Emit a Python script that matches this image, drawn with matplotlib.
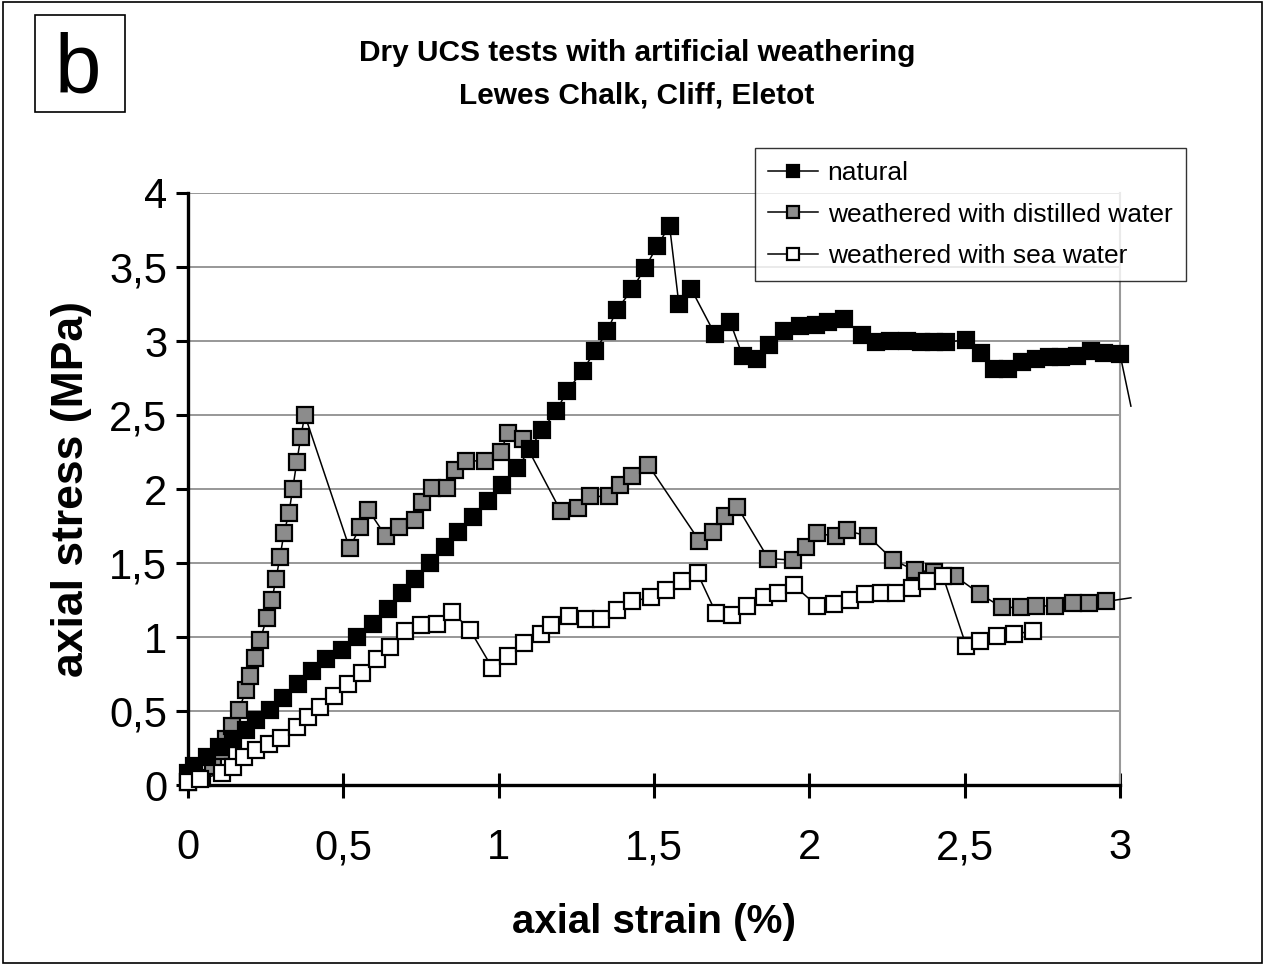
import numpy as np
import matplotlib
matplotlib.use('Agg')
import matplotlib.pyplot as plt
from matplotlib.ticker import FuncFormatter

matplotlib.rcParams['font.family'] = ['Liberation Sans', 'DejaVu Sans']

#Data (strain %, stress MPa)
#the last point of natural and distilled sits just past the axis end (line only)
nat_x = [0.0, 0.02, 0.06, 0.1, 0.145, 0.187, 0.22, 0.264, 0.305, 0.353, 0.40, 0.444, 0.495, 0.543,
         0.595, 0.643, 0.69, 0.73, 0.78, 0.827, 0.87, 0.917, 0.965, 1.01, 1.06, 1.10, 1.14, 1.186,
         1.22, 1.27, 1.31, 1.35, 1.38, 1.43, 1.47, 1.51, 1.55, 1.58, 1.62, 1.695, 1.745, 1.785,
         1.83, 1.87, 1.92, 1.97, 2.02, 2.06, 2.11, 2.17, 2.215, 2.26, 2.315, 2.36, 2.40, 2.44,
         2.505, 2.553, 2.595, 2.64, 2.685, 2.73, 2.77, 2.81, 2.86, 2.905, 2.95, 3.0, 3.035]
nat_y = [0.08, 0.13, 0.19, 0.26, 0.31, 0.37, 0.44, 0.51, 0.59, 0.68, 0.77, 0.85, 0.91, 1.0,
         1.09, 1.19, 1.30, 1.39, 1.50, 1.61, 1.71, 1.81, 1.92, 2.03, 2.14, 2.27, 2.40, 2.53,
         2.66, 2.80, 2.93, 3.07, 3.21, 3.35, 3.49, 3.64, 3.78, 3.25, 3.35, 3.05, 3.13, 2.90,
         2.88, 2.97, 3.07, 3.10, 3.11, 3.13, 3.15, 3.04, 2.99, 3.0, 3.0, 2.99, 2.99, 2.99,
         3.01, 2.92, 2.81, 2.81, 2.86, 2.88, 2.89, 2.89, 2.90, 2.93, 2.92, 2.91, 2.56]

dist_x = [0.0, 0.045, 0.08, 0.106, 0.122, 0.142, 0.164, 0.187, 0.2, 0.215, 0.232, 0.254, 0.27,
          0.283, 0.296, 0.309, 0.325, 0.337, 0.35, 0.363, 0.376, 0.52, 0.553, 0.58, 0.637, 0.68,
          0.73, 0.753, 0.785, 0.833, 0.86, 0.894, 0.955, 1.006, 1.03, 1.077, 1.2, 1.254, 1.293,
          1.354, 1.39, 1.43, 1.482, 1.646, 1.69, 1.727, 1.768, 1.868, 1.946, 1.99, 2.026, 2.087,
          2.12, 2.19, 2.27, 2.34, 2.40, 2.47, 2.55, 2.62, 2.68, 2.73, 2.79, 2.85, 2.90, 2.955, 3.035]
dist_y = [0.02, 0.05, 0.13, 0.23, 0.31, 0.40, 0.51, 0.64, 0.74, 0.86, 0.98, 1.13, 1.25,
          1.39, 1.54, 1.70, 1.84, 2.0, 2.18, 2.35, 2.50, 1.60, 1.74, 1.86, 1.68, 1.74,
          1.79, 1.91, 2.01, 2.01, 2.13, 2.19, 2.19, 2.25, 2.38, 2.34, 1.85, 1.87, 1.95,
          1.95, 2.03, 2.09, 2.16, 1.65, 1.71, 1.82, 1.88, 1.53, 1.52, 1.61, 1.70, 1.68,
          1.72, 1.68, 1.52, 1.45, 1.44, 1.41, 1.29, 1.20, 1.20, 1.21, 1.21, 1.23, 1.23, 1.24, 1.265]

sea_x = [0.0, 0.04, 0.11, 0.145, 0.18, 0.22, 0.26, 0.30, 0.35, 0.386, 0.424, 0.47, 0.515, 0.56,
         0.61, 0.65, 0.70, 0.75, 0.80, 0.85, 0.907, 0.98, 1.03, 1.08, 1.135, 1.17, 1.225, 1.28,
         1.33, 1.38, 1.43, 1.49, 1.54, 1.59, 1.64, 1.70, 1.75, 1.80, 1.855, 1.90, 1.95, 2.025,
         2.08, 2.13, 2.18, 2.23, 2.28, 2.33, 2.38, 2.43, 2.505, 2.55, 2.605, 2.66, 2.72]
sea_y = [0.02, 0.04, 0.08, 0.12, 0.19, 0.24, 0.28, 0.32, 0.39, 0.46, 0.53, 0.60, 0.68, 0.76,
         0.85, 0.93, 1.04, 1.08, 1.09, 1.17, 1.05, 0.79, 0.87, 0.96, 1.02, 1.08, 1.14, 1.12,
         1.12, 1.18, 1.24, 1.27, 1.32, 1.38, 1.43, 1.16, 1.15, 1.21, 1.27, 1.30, 1.35, 1.21,
         1.22, 1.25, 1.29, 1.30, 1.30, 1.33, 1.38, 1.41, 0.94, 0.97, 1.01, 1.02, 1.04]

x_ticks = [0, 0.5, 1, 1.5, 2, 2.5, 3]
y_ticks = [0, 0.5, 1, 1.5, 2, 2.5, 3, 3.5, 4]

fig = plt.figure(figsize=(12.65, 9.65), dpi=100)
ax = fig.add_axes([0.1486, 0.1865, 0.7368, 0.6135])

mk = dict(marker='s', markersize=11, markeredgecolor='black', markeredgewidth=1.6,
          color='black', linewidth=1.1, clip_on=False)
l1, = ax.plot(nat_x, nat_y, markerfacecolor='black', zorder=4, label='natural',
              markevery=list(range(len(nat_x) - 1)), **mk)
l2, = ax.plot(dist_x, dist_y, markerfacecolor='#8c8c8c', zorder=3,
              label='weathered with distilled water',
              markevery=list(range(len(dist_x) - 1)), **mk)
l3, = ax.plot(sea_x, sea_y, markerfacecolor='white', zorder=5,
              label='weathered with sea water', **mk)

ax.set_xlim(0, 3)
ax.set_ylim(0, 4)
ax.set_xticks(x_ticks)
ax.set_yticks(y_ticks)
fmt = FuncFormatter(lambda v, p: ('%g' % v).replace('.', ','))
ax.xaxis.set_major_formatter(fmt)
ax.yaxis.set_major_formatter(fmt)
ax.tick_params(axis='both', labelsize=30, width=2.2, length=9, color='black')
ax.tick_params(axis='x', direction='inout', length=18, pad=22)
ax.tick_params(axis='y', direction='out', pad=6)

ax.yaxis.grid(True, color='#7a7a7a', linewidth=1.1)
ax.set_axisbelow(True)
for s in ['left', 'bottom']:
    ax.spines[s].set_linewidth(2.4)
ax.spines['right'].set_color('#999999')
ax.spines['right'].set_linewidth(1.5)
ax.spines['top'].set_visible(False)

ax.set_xlabel('axial strain (%)', fontsize=29, fontweight='bold', labelpad=25)
ax.set_ylabel('axial stress (MPa)', fontsize=32, fontweight='bold', labelpad=12)

leg = fig.legend(handles=[l1, l2, l3], loc='upper left', bbox_to_anchor=(755 / 1265, 1 - 148 / 965),
                 borderaxespad=0, fontsize=19, frameon=True, fancybox=False, edgecolor='black',
                 handlelength=1.9, handletextpad=0.35, borderpad=0.5, labelspacing=0.66,
                 markerscale=0.85)
leg.get_frame().set_linewidth(1.0)

fig.text(637 / 1265, 1 - 53 / 965, 'Dry UCS tests with artificial weathering', ha='center',
         va='center', fontsize=21.5, fontweight='bold')
fig.text(637 / 1265, 1 - 95 / 965, 'Lewes Chalk, Cliff, Eletot', ha='center', va='center',
         fontsize=21.5, fontweight='bold')

#panel label box
fig.patches.append(plt.Rectangle((35 / 1265, 1 - 112 / 965), 90 / 1265, 97 / 965,
                                 transform=fig.transFigure, fill=False, edgecolor='black',
                                 linewidth=1.2))
fig.text(78 / 1265, 1 - 71 / 965, 'b', ha='center', va='center', fontsize=60)

#figure frame
fig.patches.append(plt.Rectangle((0.002, 0.002), 0.996, 0.996, transform=fig.transFigure,
                                 fill=False, edgecolor='black', linewidth=1.2))

plt.savefig('out.png', dpi=100)
